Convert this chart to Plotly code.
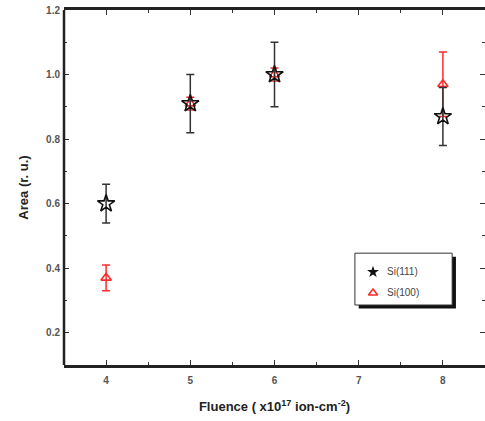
import plotly.graph_objects as go

# Integrated peak area versus ion fluence for two substrate orientations
fluence = [4, 5, 6, 8]
area_111 = [0.60, 0.91, 1.00, 0.87]
err_111 = [0.06, 0.09, 0.10, 0.09]
area_100 = [0.37, 0.91, 1.00, 0.97]
err_100 = [0.04, 0.02, 0.02, 0.10]
x_ticks = [4, 5, 6, 7, 8]
y_ticks = [0.2, 0.4, 0.6, 0.8, 1.0, 1.2]
series_names = ["Si(111)", "Si(100)"]

RED = "#ff2a2a"
FONT = "Liberation Sans, Arial"
fig = go.Figure()

fig.add_trace(go.Scatter(
    x=fluence, y=area_100, mode="markers", name=series_names[1],
    marker=dict(symbol="triangle-up-open", size=9, color=RED, line=dict(width=1.6, color=RED)),
    error_y=dict(type="data", array=err_100, color=RED, thickness=1.5, width=4),
))
fig.add_trace(go.Scatter(
    x=fluence, y=area_111, mode="markers", name=series_names[0],
    marker=dict(symbol="star-open", size=13, color="#111", line=dict(width=1.6, color="#111")),
    error_y=dict(type="data", array=err_111, color="#333", thickness=1.5, width=4),
))

# Boxed legend with drop shadow, placed in plot-fraction coordinates
box = dict(x0=0.691, x1=0.922, y0=0.169, y1=0.315)
shadow_dx, shadow_dy = 0.009, -0.010
fig.add_shape(type="rect", xref="paper", yref="paper",
              x0=box["x0"] + shadow_dx, x1=box["x1"] + shadow_dx,
              y0=box["y0"] + shadow_dy, y1=box["y1"] + shadow_dy,
              fillcolor="#111", line=dict(width=0), layer="below")
fig.add_shape(type="rect", xref="paper", yref="paper", **box,
              fillcolor="white", line=dict(width=1, color="#333"), layer="below")

# Left axis spine (the right side keeps only its ticks)
fig.add_shape(type="line", xref="paper", yref="paper", x0=0, x1=0, y0=0, y1=1,
              line=dict(width=2.5, color="#222"), layer="above")

key_x = 0.734
key_rows = [0.262, 0.203]
fig.add_trace(go.Scatter(
    x=[key_x], y=[key_rows[0]], xaxis="x2", yaxis="y2", mode="markers",
    marker=dict(symbol="star", size=9, color="#111"), hoverinfo="skip",
))
fig.add_trace(go.Scatter(
    x=[key_x], y=[key_rows[1]], xaxis="x2", yaxis="y2", mode="markers",
    marker=dict(symbol="triangle-up-open", size=8, color=RED, line=dict(width=1.6, color=RED)),
    hoverinfo="skip",
))
for name, row in zip(series_names, key_rows):
    fig.add_annotation(x=0.762, y=row, xref="paper", yref="paper", text=name,
                       showarrow=False, xanchor="left", yanchor="middle",
                       font=dict(family=FONT, size=10, color="#444"))

tick_font = dict(family=FONT, size=10, color="#555", weight="bold")
fig.update_xaxes(
    range=[3.5, 8.5], tickvals=x_ticks, ticktext=[str(v) for v in x_ticks],
    ticks="inside", ticklen=5, tickwidth=1.2, tickcolor="#333",
    minor=dict(dtick=0.5, ticks="inside", ticklen=3, tickwidth=1, tickcolor="#333"),
    showline=True, linewidth=2.5, linecolor="#222", mirror="ticks",
    showgrid=False, zeroline=False, tickfont=tick_font, ticklabelstandoff=4,
    title=dict(text="<b>Fluence ( x10<sup>17</sup> ion-cm<sup>-2</sup>)</b>",
               font=dict(family=FONT, size=13, color="#222"), standoff=18),
)
fig.update_yaxes(
    range=[0.1, 1.2], tickvals=y_ticks, ticktext=[f"{v:.1f}" for v in y_ticks],
    ticks="inside", ticklen=5, tickwidth=1.2, tickcolor="#333",
    minor=dict(dtick=0.1, ticks="inside", ticklen=3, tickwidth=1, tickcolor="#333"),
    showline=False, mirror="ticks",
    showgrid=False, zeroline=False, tickfont=tick_font, ticklabelstandoff=3,
    title=dict(text="<b>Area (r. u.)</b>",
               font=dict(family=FONT, size=13, color="#222"), standoff=14),
)

fig.update_layout(
    width=485, height=421,
    margin=dict(l=64, r=0, t=10, b=56),
    plot_bgcolor="white", paper_bgcolor="white",
    showlegend=False,
    xaxis2=dict(overlaying="x", range=[0, 1], visible=False),
    yaxis2=dict(overlaying="y", range=[0, 1], visible=False),
)

fig.write_html("out.html")
